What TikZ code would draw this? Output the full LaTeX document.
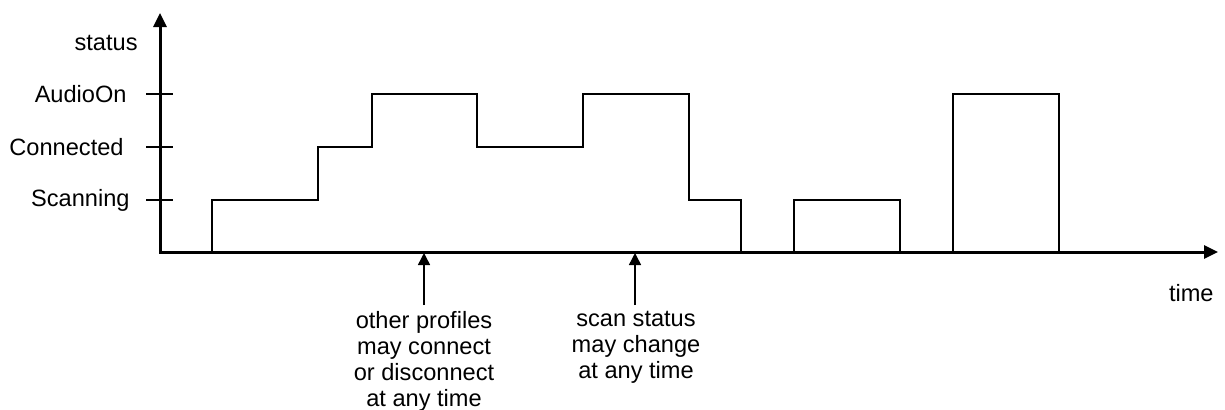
\documentclass[tikz,border=0pt]{standalone}
\usepackage{fontspec}
\setmainfont{Liberation Sans}
\usetikzlibrary{arrows.meta}
\begin{document}
\begin{tikzpicture}[x=0.5pt,y=-0.5pt,
  axis/.style={line width=1.5pt,-{Triangle[length=7pt,width=6.5pt]}},
  wave/.style={line width=0.75pt,line join=miter},
  tick/.style={line width=0.75pt},
  note/.style={line width=0.75pt,-{Triangle[length=6pt,width=6pt]}},
  lbl/.style={inner sep=0pt,font=\fontsize{11.8}{13}\selectfont},
  ml/.style={lbl,align=center}]
\useasboundingbox (0,0) rectangle (1225,409);
% axes
\coordinate (O) at (160,252);
\coordinate (ytop) at (160,13);
\coordinate (xend) at (1218,252);
\draw[axis] (O) -- (ytop);
\draw[axis] ([xshift=-0.4pt]O) -- (xend);
% ticks and level labels
\foreach \y/\n in {94/a,147/c,200/s}{
  \coordinate (t\n l) at (146,\y);
  \coordinate (t\n r) at (173,\y);
  \draw[tick] (t\n l) -- (t\n r);
}
\node[lbl,anchor=east] (status) at (138,43) {status};
\node[lbl,anchor=east] (audio) at (127,94) {AudioOn};
\node[lbl,anchor=east] (conn) at (124,147) {Connected};
\node[lbl,anchor=east] (scan) at (130,200) {Scanning};
\node[lbl,anchor=east] (time) at (1214,293) {time};
% waveform
\draw[wave] (212,252) -- (212,200) -- (318,200) -- (318,147) -- (372,147) -- (372,94)
  -- (477,94) -- (477,147) -- (583,147) -- (583,94) -- (689,94) -- (689,200)
  -- (741,200) -- (741,252);
\draw[wave] (794,252) -- (794,200) -- (900,200) -- (900,252);
\draw[wave] (953,252) -- (953,94) -- (1059,94) -- (1059,252);
\draw[line width=1.1pt] (953,132) -- (953,160);
% annotations
\node[ml,anchor=north] (n1) at (424,311) {other profiles\\may connect\\or disconnect\\at any time};
\node[ml,anchor=north] (n2) at (636,311) {scan status\\may change\\at any time};
\coordinate (a1) at (424,253);
\coordinate (a2) at (635,253);
\draw[note] (424,305) -- (a1);
\draw[note] (635,305) -- (a2);
\end{tikzpicture}
\end{document}
